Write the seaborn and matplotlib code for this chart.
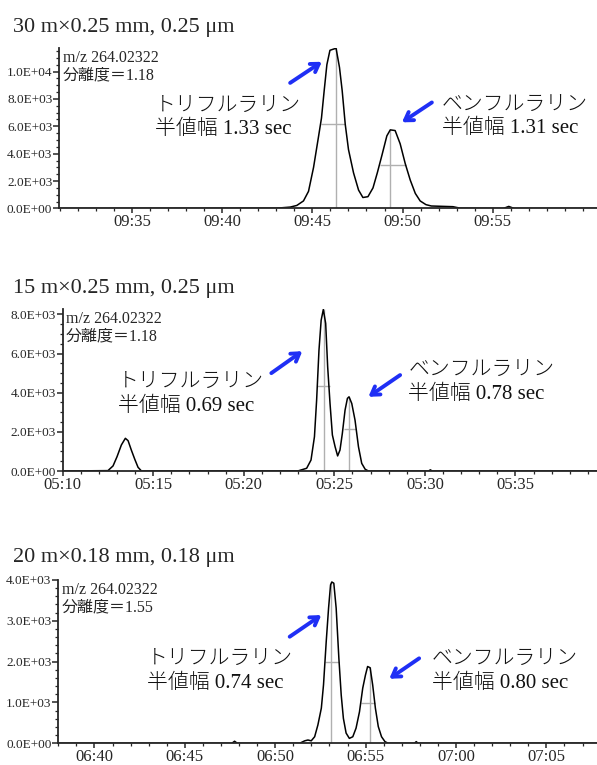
import matplotlib
matplotlib.use('Agg')
import matplotlib.pyplot as plt
from matplotlib.ticker import MultipleLocator, FixedLocator, FuncFormatter
import seaborn as sns

# ---- data (time in s, signal in counts) ----
titles = ['30 m\u00d70.25 mm, 0.25 \u03bcm',
          '15 m\u00d70.25 mm, 0.25 \u03bcm',
          '20 m\u00d70.18 mm, 0.18 \u03bcm']
mz_label = 'm/z 264.02322'
resolution = ['1.18', '1.18', '1.55']
fwhm_trif = ['1.33', '0.69', '0.74']
fwhm_benf = ['1.31', '0.78', '0.80']

p1_time = [571.0, 583.0, 583.76, 584.13, 584.50, 584.78, 585.06, 585.33, 585.50, 585.65,
           585.80, 585.97, 586.31, 586.50, 586.65, 586.82, 587.00, 587.28, 587.56, 587.80,
           588.08, 588.36, 588.60, 588.86, 589.13, 589.32, 589.59, 589.87, 590.15, 590.43,
           590.71, 590.98, 591.30, 591.60, 592.80, 593.20, 595.60, 595.90, 596.20, 600.8]
p1_signal = [0, 20, 100, 220, 550, 1250, 3000, 5200, 6600, 8600,
             10500, 11550, 11700, 10300, 8600, 6140, 4300, 2600, 1340, 800,
             860, 1500, 2600, 3900, 5300, 5740, 5690, 4720, 3280, 2070,
             1100, 550, 280, 180, 130, 20, 0, 150, 0, 0]

p2_time = [310.0, 312.50, 312.78, 313.00, 313.24, 313.46, 313.61, 313.79, 313.98, 314.16,
           314.35, 323.01, 323.47, 323.71, 323.90, 324.02, 324.15, 324.27, 324.39, 324.52,
           324.63, 324.76, 324.89, 325.04, 325.18, 325.31, 325.44, 325.59, 325.72, 325.81,
           325.96, 326.14, 326.33, 326.51, 326.70, 326.88, 330.20, 330.30, 330.40, 339.5]
p2_signal = [0, 20, 260, 730, 1330, 1670, 1550, 1070, 600, 190,
             0, 10, 140, 560, 1750, 3620, 6170, 7700, 8250, 7540,
             5320, 3450, 1840, 1240, 770, 1070, 1920, 3110, 3710, 3790,
             3450, 2600, 1240, 390, 90, 0, 0, 60, 0, 0]

p3_time = [398.0, 407.60, 407.75, 407.90, 411.35, 411.63, 411.81, 411.99, 412.18, 412.36,
           412.55, 412.67, 412.82, 412.95, 413.06, 413.13, 413.24, 413.37, 413.52, 413.65,
           413.77, 413.92, 414.10, 414.29, 414.47, 414.66, 414.84, 414.99, 415.11, 415.25,
           415.39, 415.54, 415.70, 415.88, 416.07, 416.25, 417.70, 417.80, 417.90, 427.8]
p3_signal = [0, 0, 50, 0, 0, 60, 80, 60, 160, 450,
             860, 1430, 2490, 3310, 3880, 3950, 3920, 3310, 2080, 1180,
             610, 250, 120, 160, 370, 770, 1350, 1670, 1880, 1850,
             1430, 860, 410, 160, 40, 0, 0, 40, 0, 0]

# peak apex time / height, half-height level and its left/right ends
p1_apex_t = [586.32, 589.32]
p1_apex_v = [11700, 5740]
p1_half_v = [6140, 3150]
p1_half_l = [585.47, 588.76]
p1_half_r = [586.82, 590.20]

p2_apex_t = [324.41, 325.81]
p2_apex_v = [8250, 3790]
p2_half_v = [4350, 2130]
p2_half_l = [324.02, 325.55]
p2_half_r = [324.76, 326.18]

p3_apex_t = [413.10, 415.25]
p3_apex_v = [3950, 1880]
p3_half_v = [2000, 990]
p3_half_l = [412.78, 414.75]
p3_half_r = [413.52, 415.54]

# arrows (tail -> head) and label anchors, data coords
p1_arrows = [((583.76, 9170), (585.52, 10710)), ((591.63, 7740), (589.97, 6290))]
p2_arrows = [((321.52, 5000), (323.23, 6120)), ((328.63, 4900), (326.88, 3790))]
p3_arrows = [((410.80, 2610), (412.55, 3140)), ((417.96, 2080), (416.31, 1580))]
p1_text_xy = [(576.26, 8150), (592.2, 8250)]
p2_text_xy = [(313.07, 5000), (329.09, 5600)]
p3_text_xy = [(402.92, 2280), (418.68, 2280)]

xlims = [(570.94, 600.8), (310.0, 339.5), (398.0, 427.8)]
ylims = [(0, 11720), (0, 8260), (0, 4000)]
x_major = [[575, 580, 585, 590, 595], [310, 315, 320, 325, 330, 335], [400, 405, 410, 415, 420, 425]]
y_major = [[0, 2000, 4000, 6000, 8000, 10000], [0, 2000, 4000, 6000, 8000], [0, 1000, 2000, 3000, 4000]]
y_minor = [500, 500, 200]

panels = [
    dict(t=p1_time, v=p1_signal, at=p1_apex_t, av=p1_apex_v, hv=p1_half_v, hl=p1_half_l, hr=p1_half_r,
         arrows=p1_arrows, txt=p1_text_xy),
    dict(t=p2_time, v=p2_signal, at=p2_apex_t, av=p2_apex_v, hv=p2_half_v, hl=p2_half_l, hr=p2_half_r,
         arrows=p2_arrows, txt=p2_text_xy),
    dict(t=p3_time, v=p3_signal, at=p3_apex_t, av=p3_apex_v, hv=p3_half_v, hl=p3_half_l, hr=p3_half_r,
         arrows=p3_arrows, txt=p3_text_xy),
]

# ---- layout (figure fractions) ----
axes_rects = [[0.0993, 0.7275, 0.9007, 0.2098],
              [0.1050, 0.3843, 0.8950, 0.2114],
              [0.0977, 0.0284, 0.9023, 0.2135]]
title_y = [1 - 32 / 765, 1 - 293 / 765, 1 - 562 / 765]

sns.set_style('ticks')
plt.rcParams['font.family'] = ['Liberation Serif', 'Noto Sans CJK JP']
plt.rcParams['axes.linewidth'] = 1.3

blue = '#1f2ff5'
gray = '#b0b0b0'


def mmss(v, pos):
    s = int(round(v))
    return f"{s // 60:02d}:{s % 60:02d}"


def sci(v, pos):
    return f"{v:.1E}"


fig = plt.figure(figsize=(5.97, 7.65), dpi=100)

for i, p in enumerate(panels):
    ax = fig.add_axes(axes_rects[i])

    # half-width markers
    ax.vlines(p['at'], 0, p['av'], color=gray, lw=1.0, zorder=1)
    ax.hlines(p['hv'], p['hl'], p['hr'], color=gray, lw=1.0, zorder=1)

    sns.lineplot(x=p['t'], y=p['v'], ax=ax, color='black', lw=1.1, estimator=None, zorder=2)

    ax.set_xlim(*xlims[i])
    ax.set_ylim(*ylims[i])
    ax.xaxis.set_major_locator(FixedLocator(x_major[i]))
    ax.xaxis.set_major_formatter(FuncFormatter(mmss))
    ax.xaxis.set_minor_locator(MultipleLocator(1))
    ax.yaxis.set_major_locator(FixedLocator(y_major[i]))
    ax.yaxis.set_major_formatter(FuncFormatter(sci))
    ax.yaxis.set_minor_locator(MultipleLocator(y_minor[i]))
    ax.tick_params(axis='x', which='major', length=3.8, width=1.1, labelsize=12, pad=0.5)
    ax.tick_params(axis='x', which='minor', length=2.2, width=0.9)
    ax.tick_params(axis='y', which='major', length=4, width=1.1, labelsize=9.5, pad=1)
    ax.tick_params(axis='y', which='minor', length=2.2, width=0.9)
    sns.despine(ax=ax)
    ax.set_xlabel('')
    ax.set_ylabel('')

    ax.text(0.006, 0.99, mz_label + '\n\u5206\u96e2\u5ea6\uff1d' + resolution[i],
            transform=ax.transAxes, ha='left', va='top', fontsize=11.5, linespacing=1.15)

    labels = ['\u30c8\u30ea\u30d5\u30eb\u30e9\u30ea\u30f3\n\u534a\u5024\u5e45 ' + fwhm_trif[i] + ' sec',
              '\u30d9\u30f3\u30d5\u30eb\u30e9\u30ea\u30f3\n\u534a\u5024\u5e45 ' + fwhm_benf[i] + ' sec']
    for (tx, ty), lab in zip(p['txt'], labels):
        ax.text(tx, ty, lab, ha='left', va='top', fontsize=15, fontweight='light',
                linespacing=1.3, color='#111111')

    for tail, head in p['arrows']:
        ax.annotate('', xy=head, xytext=tail,
                    arrowprops=dict(arrowstyle='->,head_length=0.55,head_width=0.35',
                                    lw=2.8, color=blue, shrinkA=0, shrinkB=0))

    fig.text(13 / 597, title_y[i], titles[i], ha='left', va='baseline', fontsize=16)

fig.savefig('out.png', dpi=100)
